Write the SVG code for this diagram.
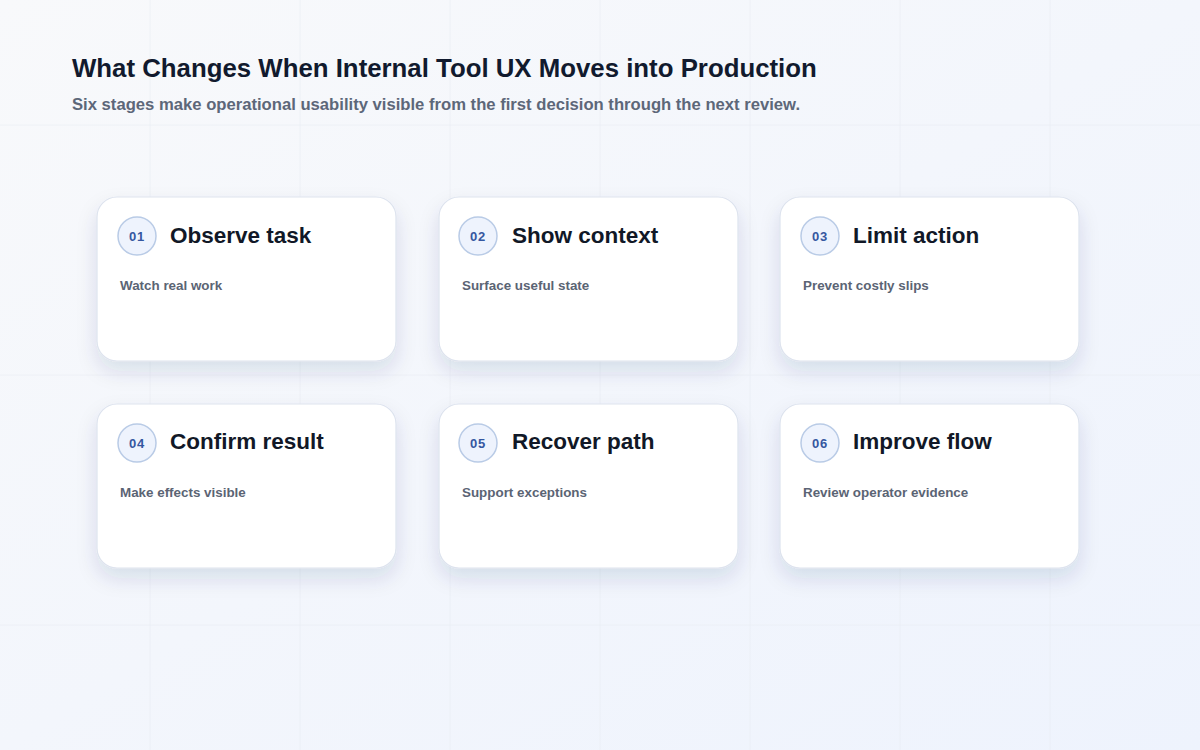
<svg xmlns="http://www.w3.org/2000/svg" width="1200" height="750" viewBox="0 0 1200 750">
<defs>
<linearGradient id="bg" x1="0" y1="0" x2="1" y2="1">
<stop offset="0" stop-color="#f8f9fb"/>
<stop offset="1" stop-color="#eef3fd"/>
</linearGradient>
<filter id="shadow" x="-20%" y="-20%" width="140%" height="160%">
<feDropShadow dx="0" dy="10" stdDeviation="10" flood-color="#24335e" flood-opacity="0.12"/>
</filter>
<style>
.grid{stroke:#e8ecf3;stroke-width:1;opacity:0.6}
.card{fill:#ffffff;stroke:#dde3ee;stroke-width:1.2;filter:url(#shadow)}
.badge{fill:#eef3fd;stroke:#b9cbe6;stroke-width:1.5}
.num{font-family:"Liberation Sans",Arial,sans-serif;font-size:13px;font-weight:700;fill:#3557a0;text-anchor:middle;letter-spacing:0.8px}
.title{font-family:"Liberation Sans",Arial,sans-serif;font-size:22.5px;font-weight:700;fill:#111827}
.desc{font-family:"Liberation Sans",Arial,sans-serif;font-size:13.4px;font-weight:700;fill:#5b6474}
.h1{font-family:"Liberation Sans",Arial,sans-serif;font-size:25.8px;font-weight:700;fill:#111a2e}
.h2{font-family:"Liberation Sans",Arial,sans-serif;font-size:16.65px;font-weight:700;fill:#5d6779}
</style>
</defs>
<rect width="1200" height="750" fill="url(#bg)"/>
<g id="grid">
<line class="grid" x1="150" y1="0" x2="150" y2="750"/>
<line class="grid" x1="300" y1="0" x2="300" y2="750"/>
<line class="grid" x1="450" y1="0" x2="450" y2="750"/>
<line class="grid" x1="600" y1="0" x2="600" y2="750"/>
<line class="grid" x1="750" y1="0" x2="750" y2="750"/>
<line class="grid" x1="900" y1="0" x2="900" y2="750"/>
<line class="grid" x1="1050" y1="0" x2="1050" y2="750"/>
<line class="grid" x1="0" y1="125" x2="1200" y2="125"/>
<line class="grid" x1="0" y1="375" x2="1200" y2="375"/>
<line class="grid" x1="0" y1="625" x2="1200" y2="625"/>
</g>
<g id="header">
<text class="h1" x="72" y="77">What Changes When Internal Tool UX Moves into Production</text>
<text class="h2" x="72" y="110">Six stages make operational usability visible from the first decision through the next review.</text>
</g>
<g id="connectors"></g>
<g id="stage-01">
<rect class="card" x="97" y="197" width="299" height="164" rx="20"/>
<circle class="badge" cx="137" cy="236" r="19"/>
<text class="num" x="137" y="241">01</text>
<text class="title" x="170" y="243">Observe task</text>
<text class="desc" x="120" y="290">Watch real work</text>
</g>
<g id="stage-02">
<rect class="card" x="439" y="197" width="299" height="164" rx="20"/>
<circle class="badge" cx="478" cy="236" r="19"/>
<text class="num" x="478" y="241">02</text>
<text class="title" x="512" y="243">Show context</text>
<text class="desc" x="462" y="290">Surface useful state</text>
</g>
<g id="stage-03">
<rect class="card" x="780" y="197" width="299" height="164" rx="20"/>
<circle class="badge" cx="820" cy="236" r="19"/>
<text class="num" x="820" y="241">03</text>
<text class="title" x="853" y="243">Limit action</text>
<text class="desc" x="803" y="290">Prevent costly slips</text>
</g>
<g id="stage-04">
<rect class="card" x="97" y="404" width="299" height="164" rx="20"/>
<circle class="badge" cx="137" cy="443" r="19"/>
<text class="num" x="137" y="448">04</text>
<text class="title" x="170" y="449">Confirm result</text>
<text class="desc" x="120" y="497">Make effects visible</text>
</g>
<g id="stage-05">
<rect class="card" x="439" y="404" width="299" height="164" rx="20"/>
<circle class="badge" cx="478" cy="443" r="19"/>
<text class="num" x="478" y="448">05</text>
<text class="title" x="512" y="449">Recover path</text>
<text class="desc" x="462" y="497">Support exceptions</text>
</g>
<g id="stage-06">
<rect class="card" x="780" y="404" width="299" height="164" rx="20"/>
<circle class="badge" cx="820" cy="443" r="19"/>
<text class="num" x="820" y="448">06</text>
<text class="title" x="853" y="449">Improve flow</text>
<text class="desc" x="803" y="497">Review operator evidence</text>
</g>
</svg>
